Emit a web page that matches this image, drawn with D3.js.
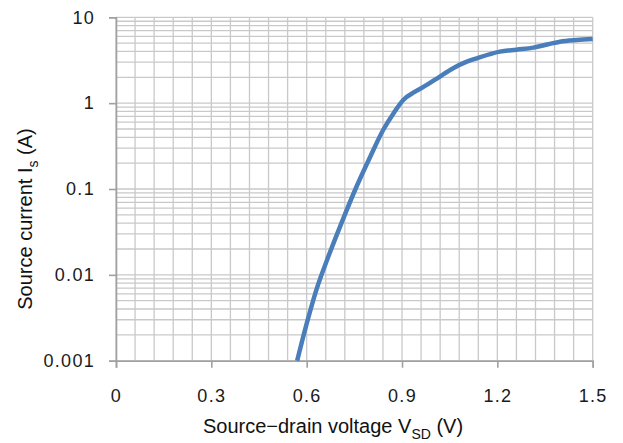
<!DOCTYPE html>
<html>
<head>
<meta charset="utf-8">
<script src="https://cdn.jsdelivr.net/npm/d3@7"></script>
<style>
  body { margin: 0; background: #fff; }
  svg { display: block; }
  .tick text { font-family: 'Liberation Sans', Arial, sans-serif; font-size: 18px; fill: #1a1a1a; letter-spacing: 1.3px; }
  .title { font-family: 'Liberation Sans', Arial, sans-serif; font-size: 20px; fill: #111; }
</style>
</head>
<body>
<svg width="623" height="443"></svg>
<script>
// forward source-drain diode curve
const voltage = [0.57, 0.60, 0.63, 0.67, 0.705, 0.757, 0.80, 0.841, 0.873, 0.904, 0.941, 0.978, 1.019, 1.061, 1.104, 1.135, 1.208, 1.26, 1.313, 1.36, 1.397, 1.45, 1.50];
const current = [0.001, 0.0027, 0.0066, 0.017, 0.0365, 0.107, 0.238, 0.49, 0.76, 1.09, 1.36, 1.63, 2.04, 2.55, 3.04, 3.33, 3.98, 4.2, 4.43, 4.85, 5.2, 5.45, 5.6];
const xTicks = [0, 0.3, 0.6, 0.9, 1.2, 1.5];
const yTicks = [0.001, 0.01, 0.1, 1, 10];
const yTickLabels = ['0.001', '0.01', '0.1', '1', '10'];

const svg = d3.select('svg');
const plotLeft = 116, plotRight = 592.7, plotTop = 17.3, plotBottom = 360.7;

const x = d3.scaleLinear().domain([0, 1.5]).range([plotLeft, plotRight]);
const y = d3.scaleLog().domain([0.001, 10]).range([plotBottom, plotTop]);

const grid = svg.append('g').attr('class', 'grid');

// vertical gridlines every 0.06 V (minor unit = major / 5)
const xMinor = d3.range(0, 26).map(function (i) { return i * 0.06; });
grid.selectAll('.vx')
  .data(xMinor)
  .enter()
  .append('line')
  .attr('x1', function (d) { return x(d); })
  .attr('x2', function (d) { return x(d); })
  .attr('y1', plotTop)
  .attr('y2', plotBottom)
  .attr('stroke', '#c9c9c9')
  .attr('stroke-width', 1.3);

// horizontal log gridlines
const yMinor = [];
[0.001, 0.01, 0.1, 1].forEach(function (dec) {
  for (let k = 1; k <= 9; k++) yMinor.push(dec * k);
});
yMinor.push(10);
grid.selectAll('.hy')
  .data(yMinor)
  .enter()
  .append('line')
  .attr('x1', plotLeft)
  .attr('x2', plotRight)
  .attr('y1', function (d) { return y(d); })
  .attr('y2', function (d) { return y(d); })
  .attr('stroke', '#c9c9c9')
  .attr('stroke-width', 1.3);

// axes
const xAxis = svg.append('g')
  .attr('transform', 'translate(0,' + plotBottom + ')')
  .call(d3.axisBottom(x).tickValues(xTicks).tickSize(7).tickPadding(22)
    .tickFormat(function (d) { return d === 0 ? '0' : d3.format('.1f')(d); }));

const yAxis = svg.append('g')
  .attr('transform', 'translate(' + plotLeft + ',0)')
  .call(d3.axisLeft(y).tickValues(yTicks).tickSize(7).tickPadding(14)
    .tickFormat(function (d, i) { return yTickLabels[i]; }));

[xAxis, yAxis].forEach(function (a) {
  a.select('.domain').attr('stroke', '#a0a0a0').attr('stroke-width', 1.6);
  a.selectAll('.tick line').attr('stroke', '#a0a0a0').attr('stroke-width', 1.6);
});

// curve
const line = d3.line()
  .x(function (d, i) { return x(voltage[i]); })
  .y(function (d) { return y(d); })
  .curve(d3.curveMonotoneX);

svg.append('path')
  .datum(current)
  .attr('d', line)
  .attr('fill', 'none')
  .attr('stroke', '#4a7ebb')
  .attr('stroke-width', 4.5)
  .attr('stroke-linecap', 'butt');

// axis titles
const xt = svg.append('text')
  .attr('class', 'title')
  .attr('x', 333)
  .attr('y', 433)
  .attr('text-anchor', 'middle');
xt.append('tspan').text('Source\u2212drain voltage V');
xt.append('tspan').attr('font-size', 14).attr('dy', 6).text('SD');
xt.append('tspan').attr('dy', -6).text(' (V)');

const yt = svg.append('text')
  .attr('class', 'title')
  .attr('transform', 'translate(32,219) rotate(-90)')
  .attr('text-anchor', 'middle');
yt.append('tspan').text('Source current I');
yt.append('tspan').attr('font-size', 14).attr('dy', 6).text('s');
yt.append('tspan').attr('dy', -6).text(' (A)');
</script>
</body>
</html>
